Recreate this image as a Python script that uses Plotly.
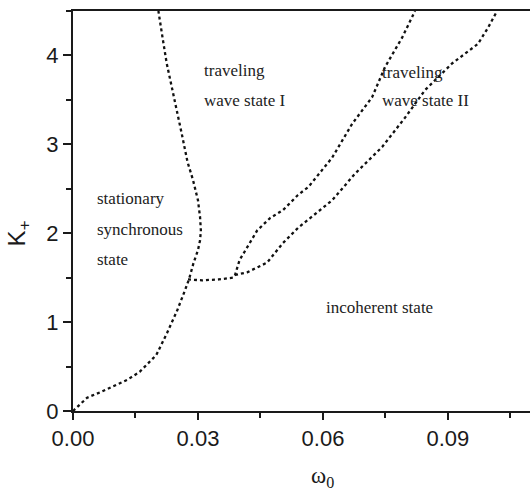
import plotly.graph_objects as go

# Boundary 1: stationary synchronous state boundary
w_sync = [0, 0.0034, 0.0065, 0.013, 0.016, 0.020, 0.0226, 0.025, 0.0269, 0.0279, 0.0289,
          0.030, 0.0305, 0.0307, 0.0305, 0.030, 0.0288, 0.0275, 0.0261, 0.025, 0.0237,
          0.0225, 0.0216, 0.0205]
k_sync = [0, 0.15, 0.21, 0.35, 0.44, 0.63, 0.88, 1.13, 1.36, 1.49, 1.66,
          1.81, 1.92, 2.03, 2.18, 2.37, 2.60, 2.80, 3.12, 3.35, 3.64,
          3.91, 4.17, 4.5]

# Boundary 2: horizontal segment + traveling wave I / II boundary
w_tw1 = [0.0276, 0.031, 0.035, 0.0384, 0.0389, 0.040, 0.0418, 0.0442, 0.0473, 0.0504,
         0.054, 0.0565, 0.0622, 0.067, 0.0718, 0.0749, 0.079, 0.0821]
k_tw1 = [1.48, 1.47, 1.48, 1.50, 1.53, 1.70, 1.84, 2.03, 2.17, 2.26,
         2.43, 2.52, 2.85, 3.23, 3.53, 3.87, 4.20, 4.5]

# Boundary 3: traveling wave II / incoherent boundary
w_tw2 = [0.0389, 0.0418, 0.0466, 0.0504, 0.054, 0.0622, 0.0677, 0.0742, 0.0797,
         0.0845, 0.091, 0.0972, 0.0996, 0.1018]
k_tw2 = [1.53, 1.56, 1.67, 1.89, 2.06, 2.37, 2.67, 2.97, 3.30,
         3.61, 3.91, 4.13, 4.31, 4.5]

x_ticks = [0.0, 0.03, 0.06, 0.09]
x_ticklabels = ["0.00", "0.03", "0.06", "0.09"]
y_ticks = [0, 1, 2, 3, 4]

labels = ["traveling", "wave state I", "traveling", "wave state II",
          "stationary", "synchronous", "state", "incoherent state"]
label_w = [0.031, 0.031, 0.0737, 0.0737, 0.0053, 0.0053, 0.0053, 0.0602]
label_k = [3.83, 3.49, 3.81, 3.49, 2.39, 2.04, 1.71, 1.16]

line_style = dict(color="#111111", width=2.3, dash="dot")

fig = go.Figure()
for wx, ky in [(w_sync, k_sync), (w_tw1, k_tw1), (w_tw2, k_tw2)]:
    fig.add_trace(go.Scatter(x=wx, y=ky, mode="lines", line=line_style,
                             showlegend=False, hoverinfo="skip"))

for t, wx, ky in zip(labels, label_w, label_k):
    fig.add_annotation(x=wx, y=ky, text=t, showarrow=False, xanchor="left",
                       yanchor="middle",
                       font=dict(family="Liberation Serif, Times New Roman, serif",
                                 size=17, color="#222222"))

# x axis title
fig.add_annotation(x=0.06, y=-0.165, xref="x", yref="paper", text="ω<sub>0</sub>",
                   showarrow=False, xanchor="center", yanchor="middle",
                   font=dict(family="Liberation Serif, Times New Roman, serif",
                             size=23, color="#1a1a1a"))
# y axis title
fig.add_annotation(x=-0.12, y=2.0, xref="paper", yref="y", text="K<sub>+</sub>",
                   showarrow=False, xanchor="center", yanchor="middle", textangle=-90,
                   font=dict(family="Liberation Sans, Arial, sans-serif",
                             size=24, color="#1a1a1a"))

fig.update_layout(
    width=530, height=497,
    margin=dict(l=73, r=0, t=11, b=86),
    paper_bgcolor="white", plot_bgcolor="white",
    font=dict(family="Liberation Sans, Arial, sans-serif", size=22, color="#1a1a1a"),
)
fig.update_xaxes(
    range=[0, 0.1097], showgrid=False, zeroline=False,
    showline=True, linecolor="#1a1a1a", linewidth=2, mirror=True,
    ticks="outside", ticklen=7, tickwidth=2, tickcolor="#1a1a1a",
    tickvals=x_ticks, ticktext=x_ticklabels,
    minor=dict(ticks="outside", ticklen=5, tickwidth=2, tickcolor="#1a1a1a",
               dtick=0.015, tick0=0, showgrid=False),
)
fig.update_yaxes(
    range=[0, 4.5], showgrid=False, zeroline=False,
    showline=True, linecolor="#1a1a1a", linewidth=2, mirror=False,
    ticks="outside", ticklen=8, tickwidth=2, tickcolor="#1a1a1a",
    tickvals=y_ticks,
    minor=dict(ticks="outside", ticklen=5, tickwidth=2, tickcolor="#1a1a1a",
               dtick=0.5, tick0=0, showgrid=False),
)

fig.write_html("out.html")
